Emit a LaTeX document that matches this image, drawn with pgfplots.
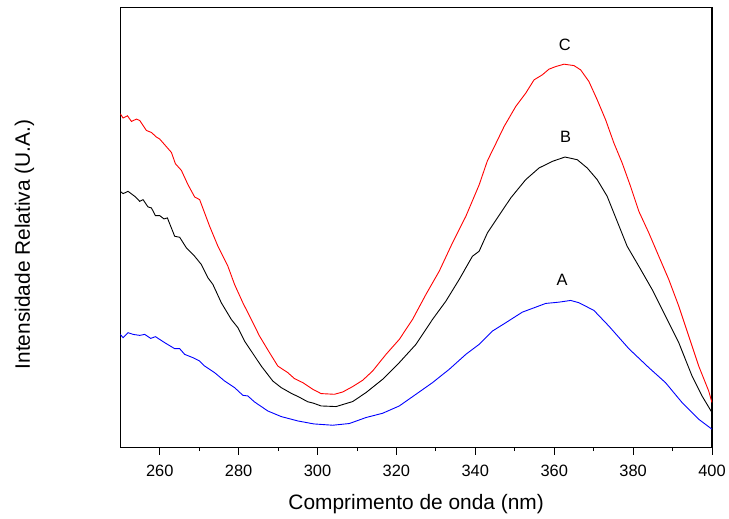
\documentclass[border=0pt]{standalone}
\usepackage{pgfplots}
\pgfplotsset{compat=1.18}
\usepackage{fontspec}
\setmainfont{Liberation Sans}
\begin{document}
\begin{tikzpicture}
\begin{axis}[
  scale only axis,
  width=592.8bp, height=441bp,
  xmin=250, xmax=400, ymin=0, ymax=10,
  xtick={260,280,...,400},
  minor x tick num=1,
  ytick=\empty, minor ytick={1,...,9},
  xtick pos=bottom, ytick pos=left,
  xtick align=outside, ytick align=inside,
  major tick length=7bp, minor tick length=3.5bp,
  every major tick/.append style={line width=1bp, black},
  every minor tick/.append style={line width=0.9bp, black},
  axis line style={line width=1.3bp},
  /pgf/number format/assume math mode=true,
  xticklabel style={font=\fontsize{16.5}{19}\selectfont, anchor=base, yshift=-22bp},
  xlabel={Comprimento de onda (nm)},
  ylabel={Intensidade Relativa (U.A.)},
  xlabel style={font=\fontsize{21}{25}\selectfont, at={(axis description cs:0.5,-0.1395)}, anchor=base},
  ylabel style={font=\fontsize{21}{25}\selectfont, at={(axis description cs:-0.1527,0.4615)}, anchor=base},
  clip=true,
]
% C (red)
\addplot[red, line width=0.9bp] coordinates {
(250,7.585)(250.71,7.488)(251.82,7.540)(252.83,7.411)(254.10,7.465)(254.93,7.433)
(256.63,7.206)(257.89,7.161)(259.16,7.057)(259.99,7.012)(262.96,6.708)(263.97,6.451)
(265.49,6.299)(267.16,5.975)(268.85,5.696)(270.12,5.635)(272.65,5.030)(274.75,4.576)
(277.28,4.122)(278.97,3.708)(281.07,3.293)(283.20,2.914)(285.30,2.535)(287.83,2.159)
(289.93,1.855)(292.46,1.705)(294.16,1.569)(296.26,1.478)(298.79,1.327)(300.91,1.229)
(304.28,1.213)(306.38,1.265)(308.91,1.388)(311.44,1.531)(313.97,1.742)(317.36,2.120)
(320.73,2.460)(324.09,2.914)(327.48,3.481)(330.85,4.009)(334.21,4.653)(337.60,5.256)
(340.97,5.970)(343.07,6.519)(344.76,6.826)(347.30,7.297)(350.25,7.751)(352.78,8.054)
(354.89,8.356)(356.98,8.470)(358.68,8.599)(360.38,8.658)(362.48,8.712)(365.01,8.680)
(366.70,8.583)(368.80,8.318)(370.90,7.903)(373.03,7.449)(375.13,6.921)(377.23,6.467)
(379.35,5.937)(381.45,5.370)(383.98,4.880)(386.51,4.349)(389.04,3.821)(391.57,3.216)
(394.10,2.535)(396.63,1.855)(399.16,1.288)(400,1.025)
};
% B (black)
\addplot[black, line width=0.9bp] coordinates {
(250,5.823)(250.71,5.771)(251.97,5.823)(253.67,5.710)(254.93,5.596)(255.77,5.635)
(257.03,5.469)(257.89,5.447)(258.91,5.272)(259.99,5.272)(261.08,5.197)(261.94,5.220)
(263.79,4.803)(265.06,4.780)(266.75,4.540)(268.85,4.349)(270.55,4.161)(272.22,3.859)
(273.48,3.708)(275.61,3.293)(278.14,2.914)(279.81,2.726)(281.50,2.422)(283.20,2.195)
(285.73,1.855)(288.66,1.515)(290.79,1.365)(293.32,1.236)(295.42,1.145)(297.52,1.043)
(299.04,1.009)(300.91,0.948)(304.71,0.934)(308.91,1.048)(312.30,1.252)(316.50,1.553)
(320.73,1.932)(324.95,2.347)(329.15,2.914)(332.54,3.329)(335.91,3.821)(339.27,4.349)
(340.97,4.463)(343.07,4.880)(345.60,5.220)(348.99,5.674)(352.78,6.089)(356.15,6.354)
(359.52,6.504)(362.73,6.603)(365.84,6.542)(368.37,6.354)(370.90,6.089)(373.43,5.710)
(375.96,5.143)(378.49,4.576)(381.45,4.122)(384.82,3.594)(388.21,2.989)(391.57,2.386)
(394.94,1.628)(397.47,1.175)(400,0.798)
};
% A (blue)
\addplot[blue, line width=0.9bp] coordinates {
(250,2.574)(250.71,2.499)(251.97,2.612)(253.24,2.574)(254.93,2.551)(256.20,2.574)
(257.72,2.483)(258.91,2.522)(261.26,2.386)(263.79,2.249)(265.06,2.249)(266.32,2.120)
(268.42,2.045)(270.12,1.968)(271.38,1.855)(273.91,1.705)(276.44,1.515)(278.97,1.365)
(281.07,1.190)(282.34,1.175)(284.03,1.039)(287.40,0.834)(290.79,0.707)(294.99,0.608)
(299.04,0.540)(303.85,0.510)(308.07,0.549)(312.30,0.685)(316.50,0.782)(320.73,0.948)
(324.95,1.213)(329.15,1.478)(333.38,1.780)(337.60,2.120)(340.97,2.347)(344.33,2.649)
(347.72,2.839)(351.92,3.079)(357.85,3.277)(361.21,3.306)(364.17,3.345)(366.27,3.293)
(370.07,3.118)(373.86,2.762)(378.92,2.249)(383.98,1.819)(388.21,1.478)(392.41,1.025)
(396.63,0.646)(400,0.420)
};
\node[font=\fontsize{16.5}{19}\selectfont] at (axis cs:362.7,9.15) {C};
\node[font=\fontsize{16.5}{19}\selectfont] at (axis cs:362.9,7.06) {B};
\node[font=\fontsize{16.5}{19}\selectfont] at (axis cs:362.0,3.82) {A};
\end{axis}
\path (current axis.south west) ++(-120.5bp,-70.5bp) coordinate (bbA);
\path (current axis.north east) ++(15.7bp,7.5bp) coordinate (bbB);
\path (bbA) rectangle (bbB);
\end{tikzpicture}
\end{document}
